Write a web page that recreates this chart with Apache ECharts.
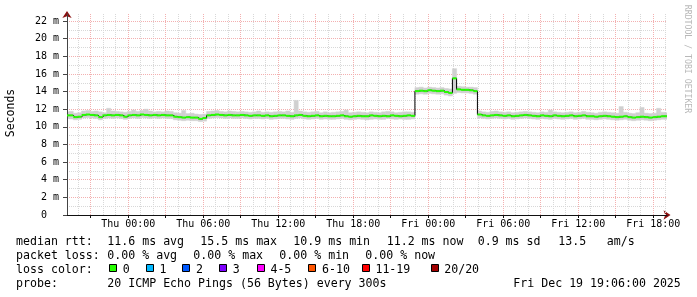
<!DOCTYPE html>
<html>
<head>
<meta charset="utf-8">
<script src="https://cdn.jsdelivr.net/npm/echarts@6/dist/echarts.min.js"></script>
<style>
html,body{margin:0;padding:0;background:#fff;}
#chart{width:697px;height:297px;}
</style>
</head>
<body>
<div id="chart"></div>
<script>
// ---------- data (hours since Wed 00:00, 20-minute samples) ----------
const startHour = 19.1;      // Wed 19:06
const endHour = 67.1;        // Fri 19:06
const stepHours = 1 / 3;     // 20 minutes

const medianRtt = [
  11.3, 11.3, 11.1, 11.15, 11.35, 11.4, 11.35, 11.3, 11.1, 11.3,
  11.35, 11.3, 11.35, 11.3, 11.15, 11.3, 11.35, 11.3, 11.4, 11.35,
  11.3, 11.35, 11.3, 11.35, 11.3, 11.3, 11.15, 11.1, 11.05, 11.1,
  11.05, 11.05, 10.9, 11.0, 11.3, 11.35, 11.4, 11.35, 11.3, 11.35,
  11.3, 11.3, 11.35, 11.3, 11.25, 11.3, 11.3, 11.25, 11.3, 11.2,
  11.25, 11.3, 11.3, 11.25, 11.2, 11.3, 11.35, 11.25, 11.2, 11.25,
  11.3, 11.2, 11.25, 11.2, 11.2, 11.25, 11.3, 11.2, 11.15, 11.2,
  11.25, 11.2, 11.2, 11.3, 11.25, 11.2, 11.25, 11.2, 11.3, 11.25,
  11.2, 11.25, 11.3, 11.25, 14.05, 14.1, 14.05, 14.15, 14.1, 14.05,
  14.1, 13.95, 13.85, 15.5, 14.25, 14.2, 14.2, 14.15, 14.05, 11.4,
  11.3, 11.25, 11.3, 11.35, 11.3, 11.25, 11.3, 11.2, 11.25, 11.3,
  11.35, 11.3, 11.25, 11.2, 11.3, 11.25, 11.2, 11.3, 11.25, 11.2,
  11.25, 11.3, 11.2, 11.25, 11.3, 11.2, 11.2, 11.15, 11.2, 11.25,
  11.2, 11.15, 11.1, 11.15, 11.2, 11.1, 11.05, 11.1, 11.15, 11.1,
  11.05, 11.1, 11.15, 11.2, 11.2
];

const smokeHigh = [
  11.7, 11.75, 11.55, 11.6, 11.8, 11.85, 11.75, 11.8, 11.7, 11.6,
  12.1, 11.8, 11.75, 11.7, 11.65, 11.75, 11.9, 11.75, 11.85, 12.0,
  11.8, 11.7, 11.75, 11.7, 11.8, 11.75, 11.6, 11.55, 11.85, 11.5,
  11.55, 11.45, 11.4, 11.45, 11.75, 11.8, 11.85, 11.75, 11.7, 11.8,
  11.75, 11.7, 11.75, 11.7, 11.65, 11.7, 11.8, 11.65, 11.7, 11.65,
  11.7, 11.75, 11.7, 11.8, 11.65, 13.0, 11.8, 11.7, 11.65, 11.7,
  11.75, 11.6, 11.7, 11.6, 11.65, 11.7, 11.75, 11.9, 11.6, 11.65,
  11.7, 11.65, 11.6, 11.7, 11.65, 11.6, 11.7, 11.75, 11.7, 11.6,
  11.65, 11.7, 11.7, 11.65, 14.45, 14.5, 14.4, 14.5, 14.45, 14.4,
  14.45, 14.35, 14.3, 16.6, 14.6, 14.55, 14.5, 14.5, 14.45, 11.8,
  11.7, 11.65, 11.75, 11.8, 11.7, 11.65, 11.7, 11.6, 11.65, 11.7,
  11.75, 11.7, 11.65, 11.6, 11.7, 11.65, 11.9, 11.7, 11.65, 11.6,
  11.65, 11.7, 11.6, 11.65, 11.75, 11.65, 11.6, 11.55, 11.65, 11.7,
  11.65, 11.6, 11.55, 12.3, 11.65, 11.55, 11.5, 11.6, 12.2, 11.55,
  11.5, 11.55, 12.1, 11.65, 11.6
];

const smokeLow = [
  10.95, 10.9, 10.8, 10.85, 11.0, 11.05, 11.0, 10.95, 10.8, 10.95,
  11.0, 10.95, 11.0, 10.95, 10.85, 10.95, 11.0, 10.95, 11.05, 11.0,
  10.95, 11.0, 10.95, 11.0, 10.95, 10.95, 10.8, 10.75, 10.7, 10.75,
  10.7, 10.7, 10.6, 10.65, 10.95, 11.0, 11.05, 11.0, 10.95, 11.0,
  10.95, 10.95, 11.0, 10.95, 10.9, 10.95, 10.95, 10.9, 10.95, 10.85,
  10.9, 10.95, 10.95, 10.9, 10.85, 10.95, 11.0, 10.9, 10.85, 10.9,
  10.95, 10.85, 10.9, 10.85, 10.85, 10.9, 10.95, 10.85, 10.8, 10.85,
  10.9, 10.85, 10.8, 10.85, 10.9, 10.85, 10.85, 10.95, 10.9, 10.85,
  10.9, 10.85, 10.85, 10.9, 13.7, 13.75, 13.7, 13.8, 13.75, 13.7,
  13.75, 13.6, 13.5, 13.8, 13.9, 13.85, 13.85, 13.8, 13.7, 11.0,
  10.95, 10.9, 10.95, 11.0, 10.95, 10.9, 10.95, 10.85, 10.9, 10.95,
  11.0, 10.95, 10.9, 10.85, 10.95, 10.9, 10.85, 10.95, 10.9, 10.85,
  10.9, 10.95, 10.85, 10.9, 10.95, 10.85, 10.85, 10.8, 10.85, 10.9,
  10.85, 10.8, 10.75, 10.8, 10.85, 10.75, 10.7, 10.75, 10.8, 10.75,
  10.7, 10.75, 10.8, 10.85, 10.85
];

// ---------- ticks ----------
const xMajorTicks = [21, 24, 27, 30, 33, 36, 39, 42, 45, 48, 51, 54, 57, 60, 63, 66];
const xMinorTicks = [20, 22, 23, 25, 26, 28, 29, 31, 32, 34, 35, 37, 38, 40, 41, 43, 44, 46, 47,
                     49, 50, 52, 53, 55, 56, 58, 59, 61, 62, 64, 65, 67];
const xLabelValues = [24, 30, 36, 42, 48, 54, 60, 66];
const xLabelTexts = ['Thu 00:00', 'Thu 06:00', 'Thu 12:00', 'Thu 18:00',
                     'Fri 00:00', 'Fri 06:00', 'Fri 12:00', 'Fri 18:00'];
const yMax = 22.8;
const yMajorTicks = [0, 2, 4, 6, 8, 10, 12, 14, 16, 18, 20, 22];
const yMinorTicks = [1, 3, 5, 7, 9, 11, 13, 15, 17, 19, 21];
const yLabelTexts = ['0  ', '2 m', '4 m', '6 m', '8 m', '10 m', '12 m', '14 m', '16 m', '18 m', '20 m', '22 m'];

// ---------- legend texts ----------
const rttTitle = 'median rtt:';
const rttStats = ['11.6 ms avg', '15.5 ms max', '10.9 ms min', '11.2 ms now', '0.9 ms sd', '13.5', 'am/s'];
const lossTitle = 'packet loss:';
const lossStats = ['0.00 % avg', '0.00 % max', '0.00 % min', '0.00 % now'];
const colorTitle = 'loss color:';
const lossLabels = ['0', '1', '2', '3', '4-5', '6-10', '11-19', '20/20'];
const lossColors = ['#26ff00', '#00b8ff', '#0059ff', '#7e00ff', '#ff00ff', '#ff5500', '#ff0000', '#a10000'];
const probeTitle = 'probe:';
const probeText = '20 ICMP Echo Pings (56 Bytes) every 300s';
const dateText = 'Fri Dec 19 19:06:00 2025';
const yTitle = 'Seconds';
const watermark = 'RRDTOOL / TOBI OETIKER';

// ---------- build ----------
const times = medianRtt.map((_, i) => startHour + i * stepHours);
const medianData = medianRtt.map((v, i) => [times[i], v]);
const smokeData = smokeLow.map((v, i) => [times[i], v, smokeHigh[i], i]);

const MONO = '"DejaVu Sans Mono", monospace';
const arrowColor = '#8b1010';
const majorGrid = '#f3b0b0';
const minorGrid = '#d8d8d8';

const graphics = [];
function txt(x, y, s, extra) {
  graphics.push(Object.assign({
    type: 'text', x: x, y: y, silent: true,
    style: {text: s, font: '11.6px ' + MONO, fill: '#000', textAlign: 'left', textVerticalAlign: 'middle'}
  }, extra || {}));
}
const rowY = [241.5, 255.5, 269.5, 283.5];
txt(16, rowY[0], rttTitle);
[107.3, 200.3, 293.3, 386.7, 477.7, 558.3, 606.7].forEach((x, i) => txt(x, rowY[0], rttStats[i]));
txt(16, rowY[1], lossTitle);
[107.3, 193.3, 279.3, 365.3].forEach((x, i) => txt(x, rowY[1], lossStats[i]));
txt(16, rowY[2], colorTitle);
[109, 145.7, 182.3, 219, 256.7, 308.3, 361.7, 430.5].forEach((x, i) => {
  graphics.push({type: 'rect', silent: true,
    shape: {x: Math.round(x) + 0.5, y: 264.5, width: 7, height: 7},
    style: {fill: lossColors[i], stroke: '#000', lineWidth: 1}});
  txt(x + 13.7, rowY[2], lossLabels[i]);
});
txt(16, rowY[3], probeTitle);
txt(107.3, rowY[3], probeText);
txt(513.3, rowY[3], dateText);
graphics.push({type: 'text', x: 11, y: 113, rotation: Math.PI / 2, silent: true,
  style: {text: yTitle, font: '11.5px ' + MONO, fill: '#000', textAlign: 'center', textVerticalAlign: 'middle'}});
graphics.push({type: 'text', x: 687.5, y: 59, rotation: -Math.PI / 2, silent: true,
  style: {text: watermark, font: '8.2px ' + MONO, fill: '#b8b8b8', textAlign: 'center', textVerticalAlign: 'middle'}});

// vertical time grid lines (and major ticks) drawn through the x scale
function vGridSeries(ticks, color, tickLen) {
  return {
    type: 'custom', xAxisIndex: 0, yAxisIndex: 0, data: ticks.map(t => [t, 0]), clip: false, z: 1, silent: true,
    renderItem: function (params, api) {
      const t = api.value(0);
      const top = api.coord([t, yMax]);
      const bot = api.coord([t, 0]);
      const x = Math.floor(bot[0]) + 0.5;
      const children = [{type: 'line', shape: {x1: x, y1: Math.round(top[1]), x2: x, y2: Math.round(bot[1])},
        style: {stroke: color, lineWidth: 1, lineDash: [1, 1]}}];
      if (tickLen) {
        children.push({type: 'line', shape: {x1: x, y1: Math.round(bot[1]), x2: x, y2: Math.round(bot[1]) + tickLen},
          style: {stroke: '#111', lineWidth: 1}});
      }
      return {type: 'group', children: children};
    }
  };
}

const chart = echarts.init(document.getElementById('chart'), null, {renderer: 'canvas'});
chart.setOption({
  animation: false,
  backgroundColor: '#ffffff',
  grid: {left: 67, top: 14, width: 600, height: 201, containLabel: false},
  xAxis: [
    {
      type: 'value', min: startHour, max: endHour, position: 'bottom', z: 2,
      axisLine: {show: true, onZero: false, lineStyle: {color: '#111', width: 1}},
      axisTick: {show: false},
      axisLabel: {
        customValues: xLabelValues, margin: 4, fontFamily: MONO, fontSize: 10, color: '#000',
        formatter: v => xLabelTexts[xLabelValues.indexOf(Math.round(v))] || ''
      },
      splitLine: {show: false}
    },
    {
      type: 'value', min: startHour, max: endHour, position: 'bottom', z: 0,
      axisLine: {show: true, onZero: false, symbol: ['none', 'arrow'], symbolSize: [7, 7], symbolOffset: [0, 3.5],
        lineStyle: {color: arrowColor, width: 0}},
      axisTick: {show: false}, axisLabel: {show: false}, splitLine: {show: false}
    }
  ],
  yAxis: [
    {
      type: 'value', min: 0, max: yMax, position: 'left', z: 2,
      axisLine: {show: true, onZero: false, lineStyle: {color: '#444', width: 1}},
      axisTick: {show: true, customValues: yMajorTicks, length: 4, lineStyle: {color: '#444'}},
      axisLabel: {
        customValues: yMajorTicks, margin: 8, fontFamily: MONO, fontSize: 10, color: '#000',
        formatter: v => yLabelTexts[yMajorTicks.indexOf(Math.round(v))] || ''
      },
      splitLine: {show: true, lineStyle: {color: majorGrid, width: 1, type: [1, 1]}}
    },
    {
      type: 'value', min: 0, max: yMax, position: 'left', z: 0,
      axisLine: {show: true, onZero: false, symbol: ['none', 'arrow'], symbolSize: [7, 7], symbolOffset: [0, 3],
        lineStyle: {color: arrowColor, width: 0}},
      axisTick: {show: false, customValues: yMinorTicks},
      axisLabel: {show: false},
      splitLine: {show: true, lineStyle: {color: minorGrid, width: 1, type: [1, 1]}}
    }
  ],
  series: [
    vGridSeries(xMinorTicks, minorGrid, 0),
    vGridSeries(xMajorTicks, majorGrid, 3),
    {
      type: 'custom', name: 'smoke', xAxisIndex: 0, yAxisIndex: 0, data: smokeData, clip: true, z: 2, silent: true,
      renderItem: function (params, api) {
        const t0 = api.value(0), lo0 = api.value(1), hi0 = api.value(2);
        const half = stepHours / 2;
        const pts = [
          api.coord([t0 - half, lo0]), api.coord([t0 - half, hi0]),
          api.coord([t0 + half, hi0]), api.coord([t0 + half, lo0])
        ];
        return {type: 'polygon', shape: {points: pts}, style: {fill: '#d0d0d0', stroke: '#d0d0d0', lineWidth: 0.5}};
      }
    },
    {
      type: 'line', name: 'medianBlack', xAxisIndex: 0, yAxisIndex: 0, data: medianData, step: 'middle',
      showSymbol: false, symbol: 'none', lineStyle: {color: '#000', width: 1}, z: 3, silent: true
    },
    {
      type: 'custom', name: 'median', xAxisIndex: 0, yAxisIndex: 0, data: medianData, clip: true, z: 4, silent: true,
      renderItem: function (params, api) {
        const t = api.value(0), v = api.value(1);
        const a = api.coord([t - stepHours / 2, v]);
        const b = api.coord([t + stepHours / 2, v]);
        return {type: 'rect', shape: {x: a[0], y: a[1] - 1, width: b[0] - a[0], height: 2},
          style: {fill: lossColors[0]}};
      }
    }
  ],
  graphic: graphics
});
</script>
</body>
</html>
